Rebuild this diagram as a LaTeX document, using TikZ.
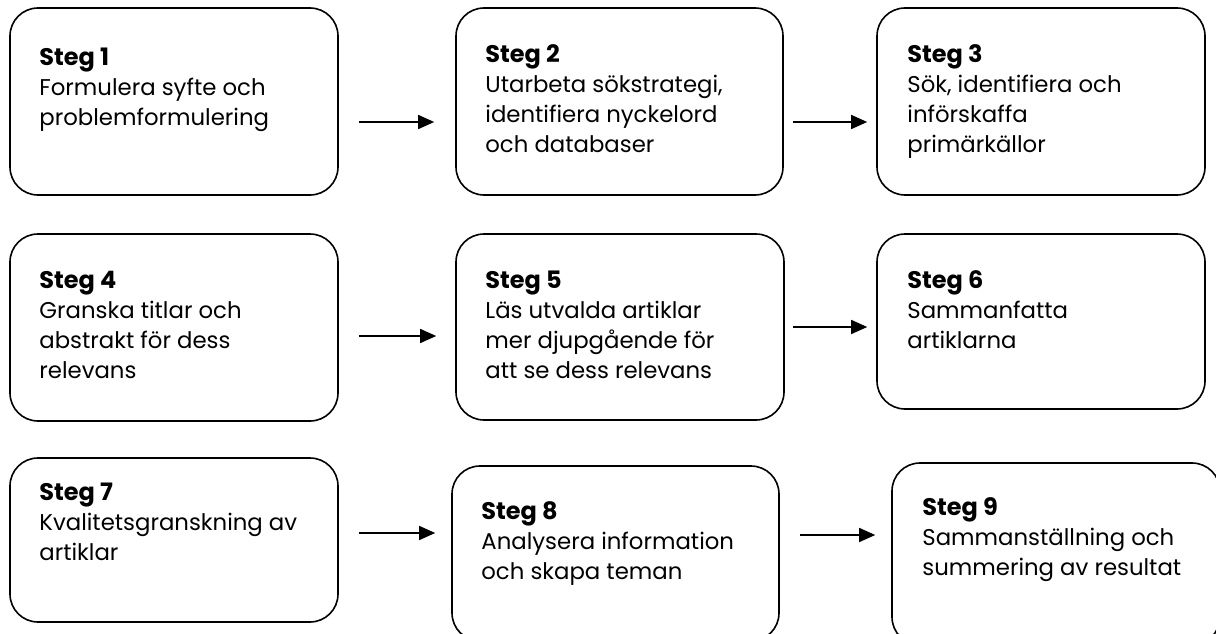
\documentclass[tikz,border=0pt]{standalone}
\usepackage{fontspec}
\setmainfont{Poppins}
\usetikzlibrary{arrows.meta,calc,fit}
\newcommand{\stegtitle}[1]{{\fontsize{24}{30}\selectfont\bfseries #1}}
\tikzset{
  boxst/.style={draw=black, line width=1.6pt, rounded corners=28pt, inner sep=0pt, fill=white},
  txt/.style={align=left, inner sep=0pt, anchor=base west, font=\fontsize{22.8}{30}\selectfont},
  arr/.style={line width=1.5pt, -{Triangle[length=16pt,width=14pt]}}
}
\begin{document}
\begin{tikzpicture}[x=1pt,y=-1pt]
\useasboundingbox (0,0) rectangle (1216,634);
\clip (0,0) rectangle (1216,634);
% boxes
\node[boxst, fit={(10,8) (338,195)}] (b1) {};
\node[boxst, fit={(456,8) (783,195)}] (b2) {};
\node[boxst, fit={(877,8) (1205,195)}] (b3) {};
\node[boxst, fit={(10,234) (338,421)}] (b4) {};
\node[boxst, fit={(456,234) (784,420)}] (b5) {};
\node[boxst, fit={(877,234) (1205,409)}] (b6) {};
\node[boxst, fit={(10,458) (338,622)}] (b7) {};
\node[boxst, fit={(452,466) (779,641)}] (b8) {};
\node[boxst, fit={(892,463) (1220,645)}] (b9) {};
% texts (anchored at the baseline of the last line)
\node[txt] (t1) at ($(b1.north west)+(30,118)$) {\stegtitle{Steg 1}\\Formulera syfte och\\problemformulering};
\node[txt] (t2) at ($(b2.north west)+(30,145)$) {\stegtitle{Steg 2}\\Utarbeta sökstrategi,\\identifiera nyckelord\\och databaser};
\node[txt] (t3) at ($(b3.north west)+(31,145)$) {\stegtitle{Steg 3}\\Sök, identifiera och\\införskaffa\\primärkällor};
\node[txt] (t4) at ($(b4.north west)+(30,145)$) {\stegtitle{Steg 4}\\Granska titlar och\\abstrakt för dess\\relevans};
\node[txt] (t5) at ($(b5.north west)+(30,145)$) {\stegtitle{Steg 5}\\Läs utvalda artiklar\\mer djupgående för\\att se dess relevans};
\node[txt] (t6) at ($(b6.north west)+(31,115)$) {\stegtitle{Steg 6}\\Sammanfatta\\artiklarna};
\node[txt] (t7) at ($(b7.north west)+(30,103)$) {\stegtitle{Steg 7}\\Kvalitetsgranskning av\\artiklar};
\node[txt] (t8) at ($(b8.north west)+(30,114)$) {\stegtitle{Steg 8}\\Analysera information\\och skapa teman};
\node[txt] (t9) at ($(b9.north west)+(31,113)$) {\stegtitle{Steg 9}\\Sammanställning och\\summering av resultat};
% arrow levels
\coordinate (y1) at (0,122);
\coordinate (y4) at (0,336);
\coordinate (y5) at (0,327);
\coordinate (y7) at (0,533);
\coordinate (y8) at (0,535);
% arrows
\draw[arr, shorten <=20pt, shorten >=21pt] (b1.east |- y1) -- (b2.west |- y1);
\draw[arr, shorten <=9pt, shorten >=9pt] (b2.east |- y1) -- (b3.west |- y1);
\draw[arr, shorten <=20pt, shorten >=19pt] (b4.east |- y4) -- (b5.west |- y4);
\draw[arr, shorten <=8pt, shorten >=9pt] (b5.east |- y5) -- (b6.west |- y5);
\draw[arr, shorten <=20pt, shorten >=16pt] (b7.east |- y7) -- (b8.west |- y7);
\draw[arr, shorten <=20pt, shorten >=16pt] (b8.east |- y8) -- (b9.west |- y8);
\end{tikzpicture}
\end{document}
